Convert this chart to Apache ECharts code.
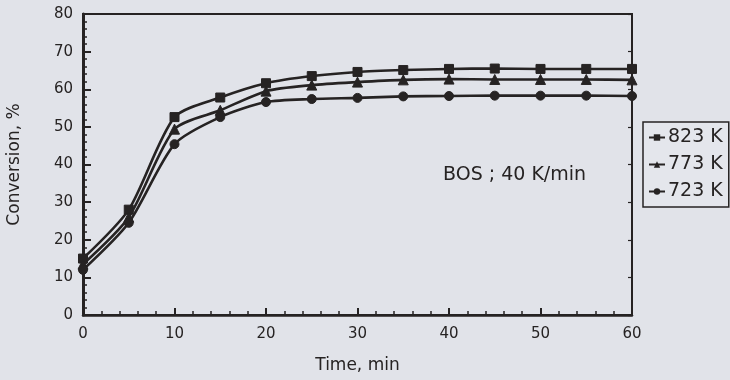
<!DOCTYPE html>
<html>
<head>
<meta charset="utf-8">
<script src="https://cdn.jsdelivr.net/npm/echarts@6/dist/echarts.min.js"></script>
<style>
html,body{margin:0;padding:0;background:#e1e3e9;}
#c{width:730px;height:380px;}
</style>
</head>
<body>
<div id="c"></div>
<script>
var times = [0, 5, 10, 15, 20, 25, 30, 35, 40, 45, 50, 55, 60];
var seriesNames = ['823 K', '773 K', '723 K'];
var conv823 = [15, 28, 52.6, 57.8, 61.6, 63.5, 64.6, 65.1, 65.4, 65.5, 65.4, 65.4, 65.4];
var conv773 = [13.5, 26, 49.4, 54.4, 59.5, 61.1, 61.9, 62.5, 62.7, 62.6, 62.6, 62.6, 62.5];
var conv723 = [12, 24.5, 45.4, 52.6, 56.6, 57.4, 57.7, 58.1, 58.2, 58.3, 58.3, 58.3, 58.2];
var yTicks = [0, 10, 20, 30, 40, 50, 60, 70, 80];
var xTicks = [0, 10, 20, 30, 40, 50, 60];

var ink = '#262323';
var font = 'DejaVu Sans';
function pairs(v){ return times.map(function(t,i){ return [t, v[i]]; }); }
function mkSeries(name, data, symbol, size){
  return {
    name: name, type: 'line', data: pairs(data), smooth: 0.25,
    symbol: symbol, symbolSize: size, showSymbol: true,
    lineStyle: {color: ink, width: 2.6},
    itemStyle: {color: ink, borderColor: ink},
    emphasis: {disabled: true}
  };
}
var chart = echarts.init(document.getElementById('c'));
chart.setOption({
  animation: false,
  backgroundColor: '#e1e3e9',
  grid: {left: 83, right: 98, top: 14, bottom: 65, show: true, borderColor: ink, borderWidth: 2, backgroundColor: 'transparent', outerBoundsMode: 'none', containLabel: false},
  title: {text: 'BOS ; 40 K/min', left: 438, top: 161, textStyle: {fontFamily: font, fontSize: 19, fontWeight: 'normal', color: ink}},
  legend: {
    orient: 'vertical', left: 643, top: 122, padding: [6, 6, 6, 5],
    itemWidth: 16, itemHeight: 8, itemGap: 8,
    borderColor: ink, borderWidth: 1.5, backgroundColor: '#e4e6ec',
    textStyle: {fontFamily: font, fontSize: 19, color: ink, padding: [0,0,0,-2]},
    data: seriesNames
  },
  xAxis: {
    type: 'value', min: xTicks[0], max: xTicks[xTicks.length-1], interval: 10,
    name: 'Time, min', nameLocation: 'middle', nameGap: 42,
    nameTextStyle: {fontFamily: font, fontSize: 17, color: ink},
    axisLine: {show: true, lineStyle: {color: ink, width: 2.5}},
    axisTick: {show: true, inside: true, length: 7, lineStyle: {color: ink, width: 2}},
    minorTick: {show: true, splitNumber: 5, length: 4, lineStyle: {color: ink, width: 1.5}},
    axisLabel: {fontFamily: font, fontSize: 15, color: ink, margin: 12},
    splitLine: {show: false}
  },
  yAxis: [{
    type: 'value', min: yTicks[0], max: yTicks[yTicks.length-1], interval: 10,
    name: 'Conversion, %', nameLocation: 'middle', nameGap: 60, nameRotate: 90,
    nameTextStyle: {fontFamily: font, fontSize: 17, color: ink},
    axisLine: {show: true, lineStyle: {color: ink, width: 3}},
    axisTick: {show: true, inside: true, length: 8, lineStyle: {color: ink, width: 2}},
    minorTick: {show: true, splitNumber: 5, length: 4, lineStyle: {color: ink, width: 1.5}},
    axisLabel: {fontFamily: font, fontSize: 15, color: ink, margin: 10},
    splitLine: {show: false}
  }, {
    type: 'value', min: 0, max: 80, interval: 10, position: 'right',
    axisLine: {show: true, lineStyle: {color: ink, width: 2}},
    axisTick: {show: true, inside: true, length: 4, lineStyle: {color: ink, width: 1.2}},
    axisLabel: {show: false}, splitLine: {show: false}
  }],
  series: [
    mkSeries(seriesNames[0], conv823, 'rect', 9),
    mkSeries(seriesNames[1], conv773, 'triangle', 10),
    mkSeries(seriesNames[2], conv723, 'circle', 9)
  ]
});
</script>
</body>
</html>
